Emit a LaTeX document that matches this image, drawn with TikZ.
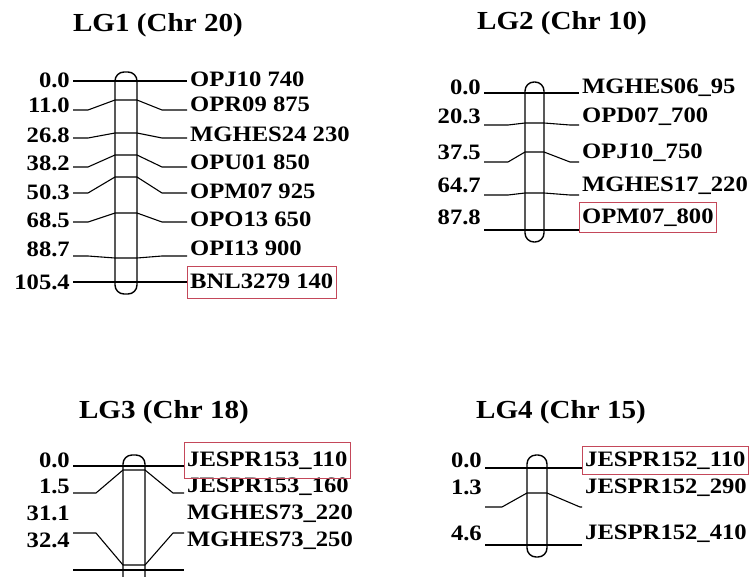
\documentclass[tikz,border=0pt]{standalone}
\usepackage{fontspec}
\setmainfont{Liberation Serif}[FakeStretch=1.12]
\definecolor{boxred}{RGB}{196,72,90}
\tikzset{
  ttl/.style={font=\fontsize{26}{28}\selectfont\bfseries},
  cmlab/.style={anchor=east, inner xsep=3pt, inner ysep=0pt, font=\fontsize{22}{24}\selectfont\bfseries},
  mklab/.style={anchor=west, inner xsep=3pt, inner ysep=0pt, text height=15pt, text depth=3pt, font=\fontsize{22}{24}\selectfont\bfseries},
  hilite/.style={draw=boxred, line width=0.9pt},
  link/.style={line width=1.1pt, line join=round},
  chrom/.style={line width=1.4pt, rounded corners=9pt},
}
\begin{document}
\begin{tikzpicture}[x=1pt, y=-1pt]
\useasboundingbox (0,0) rectangle (751,576);
\clip (0,0) rectangle (751,576);

% LG1
\node[ttl] (t1) at (158,25) {LG1 (Chr 20)};
\draw[chrom] (115,72) rectangle (137,294);
\foreach \cm/\mk/\ty/\ly/\iy [count=\i] in {0.0/{OPJ10 740}/80/81/81, 11.0/{OPR09 875}/105/110/100,
    26.8/{MGHES24 230}/135/138/133, 38.2/{OPU01 850}/163/167/155, 50.3/{OPM07 925}/192/193/177,
    68.5/{OPO13 650}/220/222/213, 88.7/{OPI13 900}/249/256/258, 105.4/{BNL3279 140}/282/282/282}{
  \node[cmlab] (ca\i) at (73,\ty) {\cm};
  \node[mklab] (ma\i) at (187,\ty) {\mk};
  \draw[link] (ca\i.east |- 0,\ly) -- (88,\ly) -- (115,\iy) -- (137,\iy) -- (162,\ly) -- (ma\i.west |- 0,\ly);
}
\draw[hilite] ([yshift=-16pt]ma8.west) rectangle ([yshift=16pt]ma8.east);

% LG2
\node[ttl] (t2) at (562,23) {LG2 (Chr 10)};
\draw[chrom] (525,82) rectangle (544,242);
\foreach \cm/\mk/\ty/\ly/\iy [count=\i] in {0.0/{MGHES06\_95}/87/93/93, 20.3/{OPD07\_700}/116/125/123,
    37.5/{OPJ10\_750}/152/162/152, 64.7/{MGHES17\_220}/185/195/193, 87.8/{OPM07\_800}/217/230/230}{
  \node[cmlab] (cb\i) at (484,\ty) {\cm};
  \node[mklab] (mb\i) at (579,\ty) {\mk};
  \draw[link] (cb\i.east |- 0,\ly) -- (508,\ly) -- (525,\iy) -- (544,\iy) -- (570,\ly) -- (mb\i.west |- 0,\ly);
}
\draw[hilite] ([yshift=-15pt]mb5.west) rectangle ([yshift=15pt]mb5.east);

% LG3
\node[ttl] (t3) at (164,412) {LG3 (Chr 18)};
\draw[chrom] (123,455) rectangle (145,592);
\foreach \cm/\mk/\ty/\ly/\iy [count=\i] in {0.0/{JESPR153\_110}/460/466/466, 1.5/{JESPR153\_160}/486/493/470,
    31.1/{MGHES73\_220}/513/533/565, 32.4/{MGHES73\_250}/540/570/570}{
  \node[cmlab] (cc\i) at (73,\ty) {\cm};
  \node[mklab] (mc\i) at (184,\ty) {\mk};
  \draw[link] (cc\i.east |- 0,\ly) -- (96,\ly) -- (123,\iy) -- (145,\iy) -- (173,\ly) -- (mc\i.west |- 0,\ly);
}
\draw[hilite] ([yshift=-18pt]mc1.west) rectangle ([yshift=18pt]mc1.east);

% LG4
\node[ttl] (t4) at (561,412) {LG4 (Chr 15)};
\draw[chrom] (527,455) rectangle (547,557);
\foreach \cm/\mk/\ty/\ly/\iy [count=\i] in {0.0/{JESPR152\_110}/460/468/468, 1.3/{JESPR152\_290}/487/507/493,
    4.6/{JESPR152\_410}/533/545/545}{
  \node[cmlab] (cd\i) at (485,\ty) {\cm};
  \node[mklab] (md\i) at (582,\ty) {\mk};
  \draw[link] (cd\i.east |- 0,\ly) -- (502,\ly) -- (527,\iy) -- (547,\iy) -- (580,\ly) -- (md\i.west |- 0,\ly);
}
\draw[hilite] ([yshift=-14pt]md1.west) rectangle ([yshift=14pt]md1.east);
\end{tikzpicture}
\end{document}
